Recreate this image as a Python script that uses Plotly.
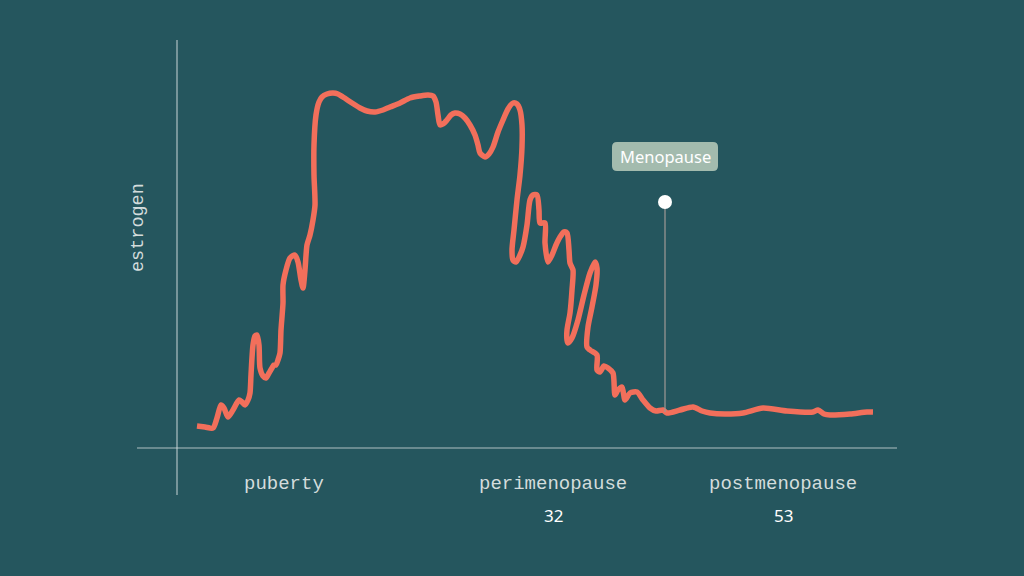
import plotly.graph_objects as go

# traced curve: x = distance right of the y axis, y = height above the x axis
curve_x = [20, 28, 36, 40, 44, 47, 51, 56, 62, 65, 68, 71, 73, 74, 76, 78, 80, 82, 83, 86, 89, 92, 95, 97,
           99, 101, 103, 104, 106, 106, 109, 113, 118, 121, 124, 126, 128, 130, 133, 136, 138, 137, 137,
           139, 142, 145, 150, 156, 161, 166, 175, 183, 190, 198, 206, 213, 223, 233, 243, 251, 256, 259,
           261, 263, 266, 270, 274, 278, 283, 288, 293, 298, 301, 303, 308, 312, 316, 321, 326, 331, 336,
           340, 343, 345, 345, 343, 340, 337, 335, 336, 339, 343, 346, 350, 353, 356, 360, 362, 363, 368,
           368, 371, 375, 379, 383, 387, 390, 392, 393, 396, 395, 393, 390, 390, 391, 395, 401, 407, 413,
           418, 420, 419, 415, 411, 410, 413, 420, 420, 423, 427, 431, 436, 438, 441, 445, 448, 453, 460,
           466, 473, 479, 486, 490, 503, 516, 525, 533, 548, 566, 586, 610, 636, 641, 647, 653, 673, 690,
           696]
curve_y = [22, 21, 20, 30, 43, 40, 31, 38, 48, 46, 43, 48, 55, 73, 103, 112, 113, 103, 80, 72, 70, 75, 80,
           83, 83, 88, 95, 118, 145, 163, 178, 190, 193, 186, 168, 160, 178, 203, 213, 228, 243, 273, 303,
           333, 346, 351, 354, 355, 354, 351, 345, 340, 337, 336, 338, 341, 345, 350, 352, 353, 352, 346,
           333, 323, 324, 328, 333, 335, 334, 330, 323, 313, 303, 295, 291, 294, 301, 316, 328, 339, 345,
           344, 338, 323, 301, 273, 248, 218, 198, 188, 186, 193, 201, 223, 248, 253, 253, 238, 225, 225,
           205, 186, 193, 203, 211, 216, 215, 198, 185, 178, 158, 135, 118, 108, 105, 110, 128, 153, 175,
           186, 180, 163, 141, 121, 101, 98, 93, 78, 76, 82, 80, 75, 53, 58, 61, 48, 55, 56, 48, 40, 37,
           38, 35, 38, 41, 37, 35, 34, 35, 40, 37, 36, 38, 34, 33, 34, 36, 36]

stages = ["puberty", "perimenopause", "postmenopause"]
stage_x = [107, 376, 606]
ages = ["32", "53"]
age_x = [376, 606]

menopause_x = 488
menopause_y = 246
menopause_base = 36

bg = "#25565e"
axis_col = "rgba(220,228,228,0.75)"

fig = go.Figure()

fig.add_trace(go.Scatter(
    x=curve_x, y=curve_y, mode="lines",
    line=dict(color="#f26f5b", width=5.5, shape="spline", smoothing=0.7),
    hoverinfo="skip"
))

fig.add_trace(go.Scatter(
    x=[menopause_x, menopause_x], y=[menopause_base, menopause_y], mode="lines",
    line=dict(color="#a09a96", width=1.2), hoverinfo="skip"
))
fig.add_trace(go.Scatter(
    x=[menopause_x], y=[menopause_y], mode="markers",
    marker=dict(color="white", size=14), hoverinfo="skip"
))

# axes
fig.add_shape(type="line", x0=0, x1=0, y0=-47, y1=408, line=dict(color=axis_col, width=1.2))
fig.add_shape(type="line", x0=-40, x1=720, y0=0, y1=0, line=dict(color=axis_col, width=1.2))

fig.add_annotation(x=-39, y=220, text="estrogen", textangle=-90, showarrow=False,
                   font=dict(family="Liberation Mono", size=18.5, color="#d3dcdc"))

for s, sx in zip(stages, stage_x):
    fig.add_annotation(x=sx, y=-36, text=s, showarrow=False,
                       font=dict(family="Liberation Mono", size=19, color="#d3dcdc"))
for a, ax in zip(ages, age_x):
    fig.add_annotation(x=ax, y=-67, text=a, showarrow=False,
                       font=dict(family="Noto Sans", size=17, color="white"))

# rounded label box for "Menopause"
bx0, bx1, by0, by1, r = menopause_x - 53, menopause_x + 53, 277, 306, 5
box_path = (f"M {bx0 + r},{by0} L {bx1 - r},{by0} Q {bx1},{by0} {bx1},{by0 + r} "
            f"L {bx1},{by1 - r} Q {bx1},{by1} {bx1 - r},{by1} L {bx0 + r},{by1} "
            f"Q {bx0},{by1} {bx0},{by1 - r} L {bx0},{by0 + r} Q {bx0},{by0} {bx0 + r},{by0} Z")
fig.add_shape(type="path", path=box_path, fillcolor="#a3bbae", line=dict(width=0))
fig.add_annotation(x=menopause_x, y=291.5, text="Menopause", showarrow=False,
                   font=dict(family="Noto Sans", size=16.5, color="white"))

fig.update_layout(
    width=1024, height=576,
    margin=dict(l=0, r=0, t=0, b=0),
    paper_bgcolor=bg, plot_bgcolor=bg,
    showlegend=False,
    xaxis=dict(range=[-177, 847], visible=False, fixedrange=True),
    yaxis=dict(range=[-128, 448], visible=False, fixedrange=True),
)

fig.write_html("out.html", config={"displayModeBar": False},
               post_script="document.body.style.margin='0';")
